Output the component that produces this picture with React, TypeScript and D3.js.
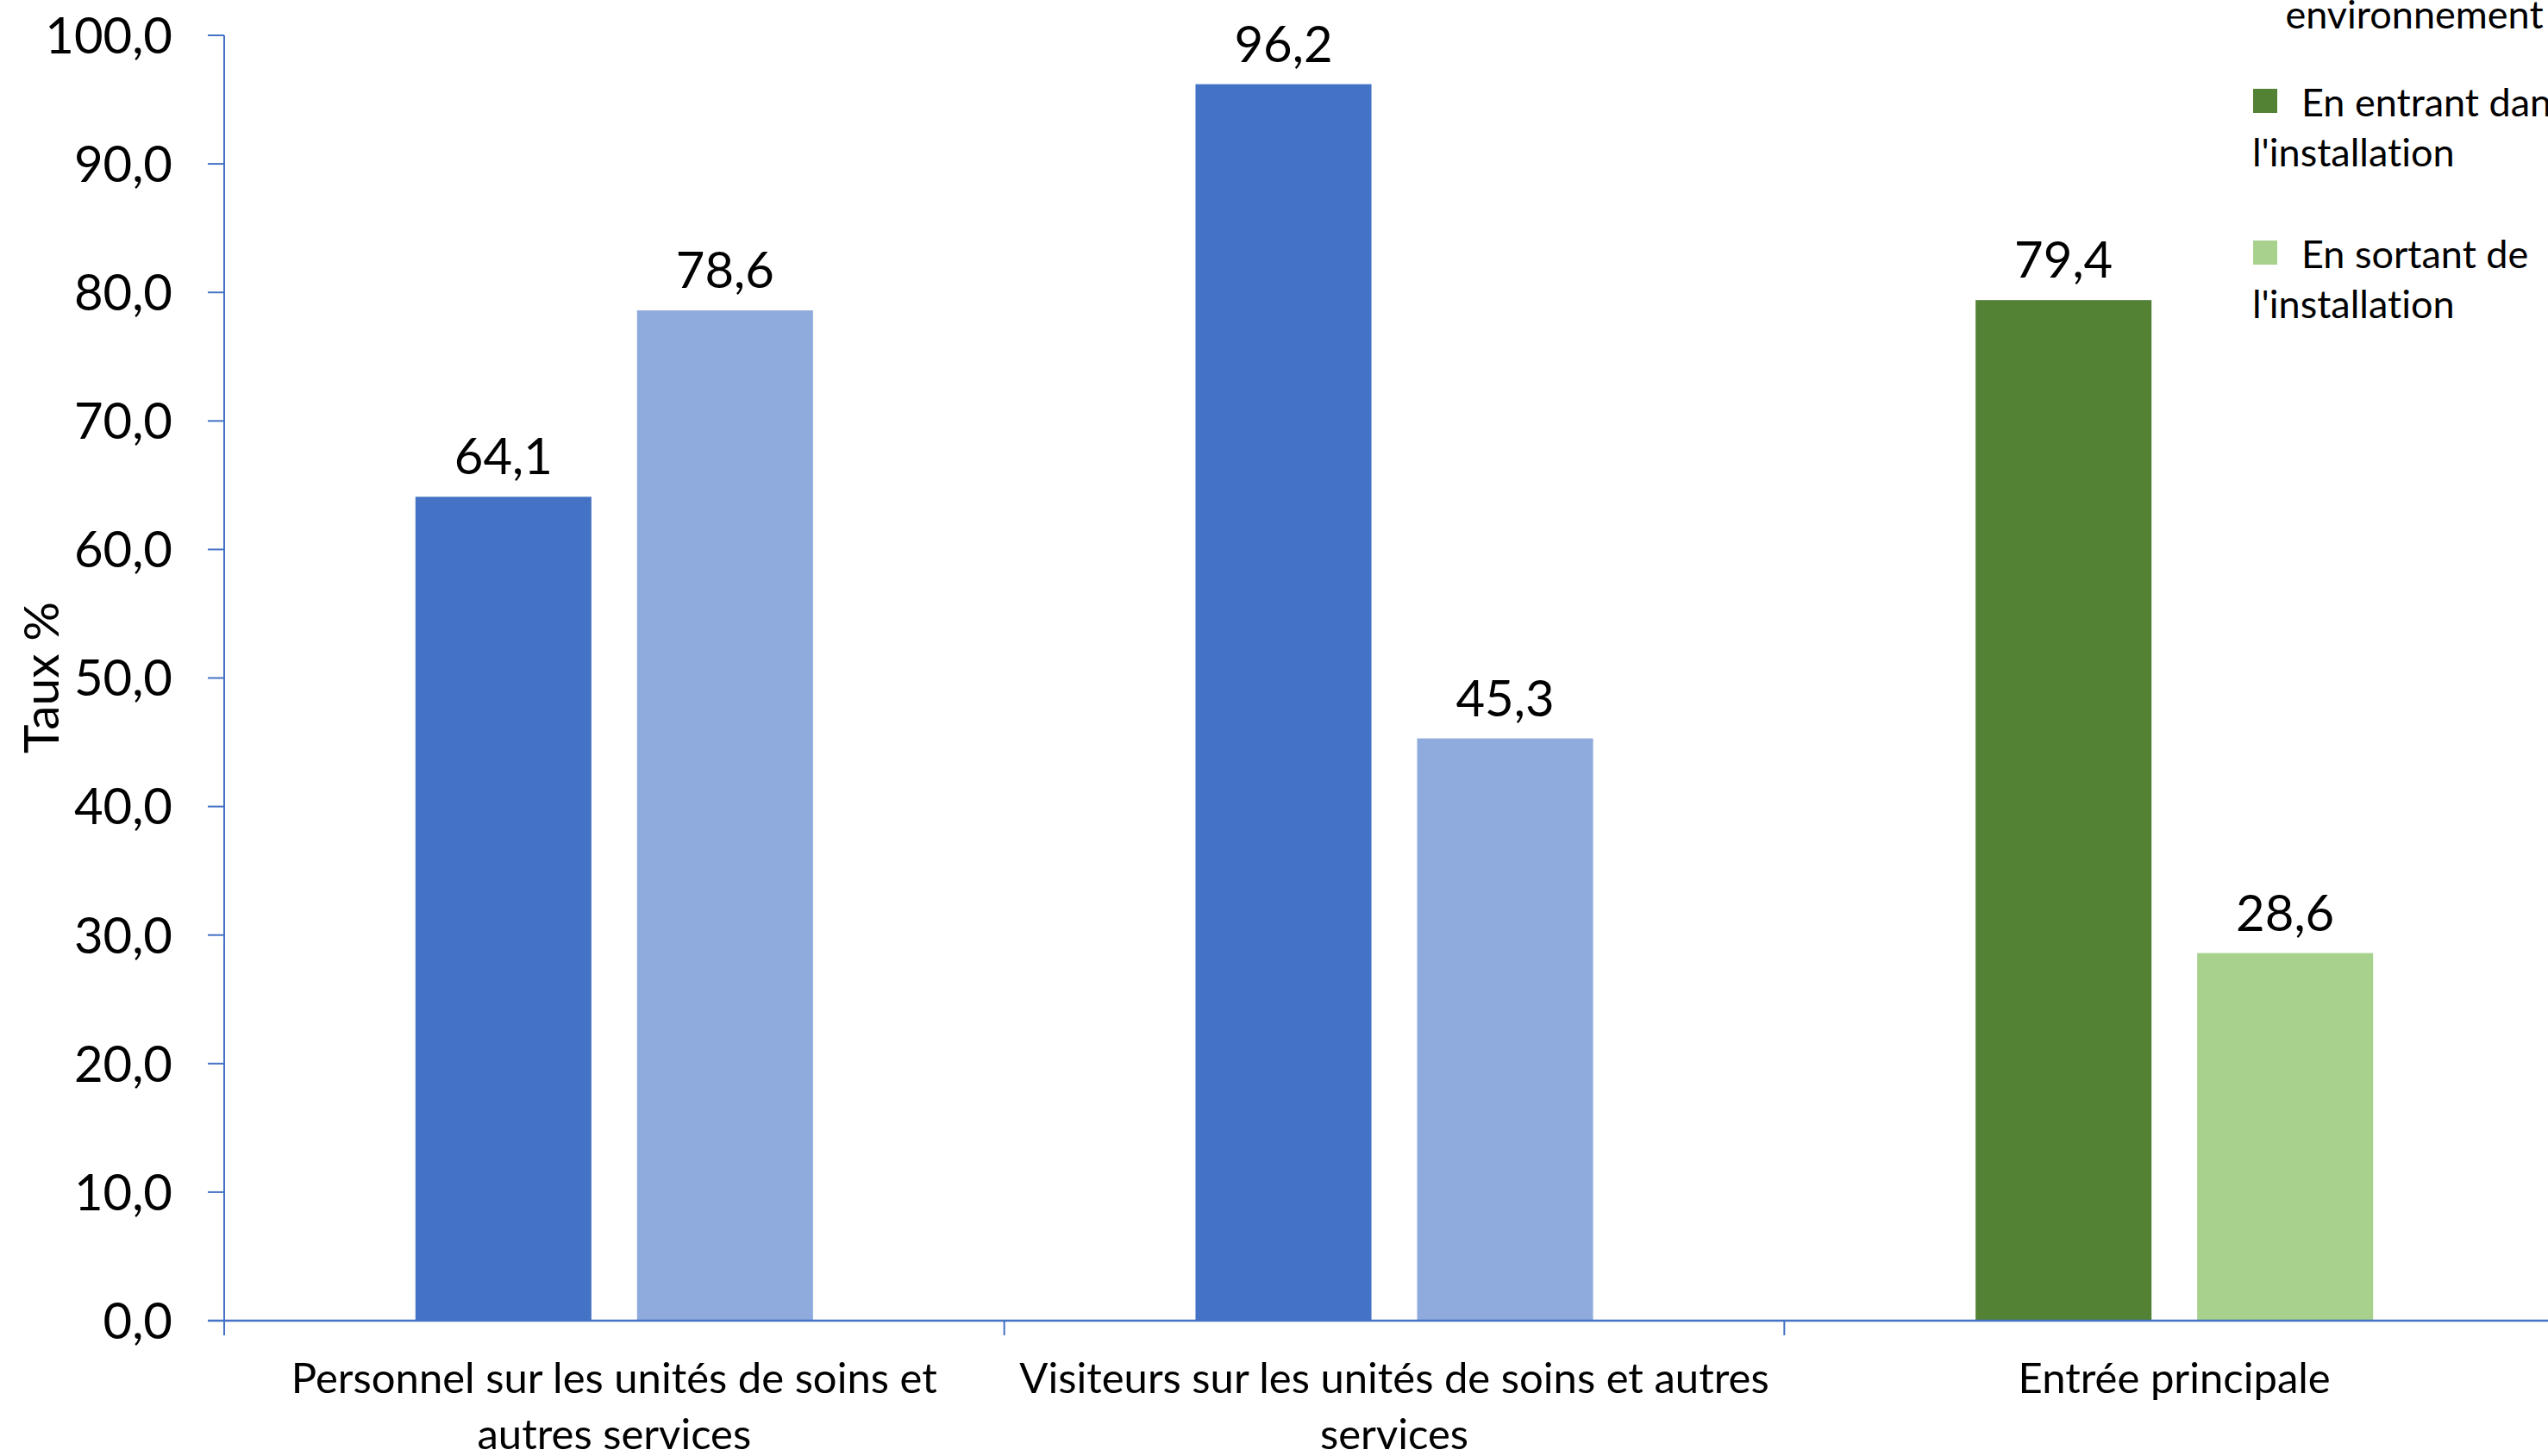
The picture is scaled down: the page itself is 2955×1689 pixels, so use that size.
// @ts-nocheck
import * as d3 from "d3";
import React, { useEffect, useRef } from "react";

const categories = [
  ["Personnel sur les unités de soins et", "autres services"],
  ["Visiteurs sur les unités de soins et autres", "services"],
  ["Entrée principale"],
];
const entrant = [64.1, 96.2, 79.4];
const sortant = [78.6, 45.3, 28.6];
const darkColors = ["#4472C4", "#4472C4", "#548235"];
const lightColors = ["#8FAADC", "#8FAADC", "#A9D18E"];
const yTicks = [0, 10, 20, 30, 40, 50, 60, 70, 80, 90, 100];
const legendItems = [
  { lines: ["En entrant dans", "l'installation"], color: "#548235" },
  { lines: ["En sortant de", "l'installation"], color: "#A9D18E" },
];

const W = 2955;
const H = 1689;
const FONT = "Lato, 'Open Sans', sans-serif";

export default function App() {
  const ref = useRef(null);

  useEffect(() => {
    document.body.style.margin = "0";
    const svg = d3.select(ref.current);
    svg.selectAll("*").remove();

    const keys = categories.map((c, i) => "c" + i);
    const x = d3.scaleBand().domain(keys).range([260, 2974]);
    const inner = d3
      .scaleBand()
      .domain(["entrant", "sortant"])
      .range([0, x.bandwidth()])
      .paddingInner(0.206)
      .paddingOuter(0.863);
    const y = d3.scaleLinear().domain([0, 100]).range([1532, 41]);
    const fmt = (v) => d3.format(".1f")(v).replace(".", ",");

    const g = svg.append("g").style("font-variant-ligatures", "none");

    // bars
    keys.forEach((k, i) => {
      const rows = [
        { s: "entrant", v: entrant[i], c: darkColors[i] },
        { s: "sortant", v: sortant[i], c: lightColors[i] },
      ];
      rows.forEach((r) => {
        const bx = x(k) + inner(r.s);
        g.append("rect")
          .attr("x", bx)
          .attr("y", y(r.v))
          .attr("width", inner.bandwidth())
          .attr("height", y(0) - y(r.v))
          .attr("fill", r.c);
        g.append("text")
          .attr("x", bx + inner.bandwidth() / 2)
          .attr("y", y(r.v) - 26)
          .attr("text-anchor", "middle")
          .attr("font-family", FONT)
          .attr("font-size", 58)
          .attr("fill", "#000")
          .text(fmt(r.v));
      });
    });

    // y axis
    const axisColor = "#4472C4";
    g.append("line")
      .attr("x1", 260).attr("x2", 260)
      .attr("y1", y(100)).attr("y2", y(0))
      .attr("stroke", axisColor).attr("stroke-width", 2);
    yTicks.forEach((t) => {
      g.append("line")
        .attr("x1", 241).attr("x2", 260)
        .attr("y1", y(t)).attr("y2", y(t))
        .attr("stroke", axisColor).attr("stroke-width", 2);
      g.append("text")
        .attr("x", 200)
        .attr("y", y(t))
        .attr("dy", "0.36em")
        .attr("text-anchor", "end")
        .attr("font-family", FONT)
        .attr("font-size", 58)
        .attr("fill", "#000")
        .text(fmt(t));
    });

    // x axis
    g.append("line")
      .attr("x1", 241).attr("x2", 2974)
      .attr("y1", y(0)).attr("y2", y(0))
      .attr("stroke", axisColor).attr("stroke-width", 2.5);
    keys.forEach((k, i) => {
      g.append("line")
        .attr("x1", x(k)).attr("x2", x(k))
        .attr("y1", y(0)).attr("y2", y(0) + 17)
        .attr("stroke", axisColor).attr("stroke-width", 2);
      const t = g.append("text")
        .attr("text-anchor", "middle")
        .attr("font-family", FONT)
        .attr("font-size", 49)
        .attr("fill", "#000");
      categories[i].forEach((line, j) => {
        t.append("tspan")
          .attr("x", x(k) + x.bandwidth() / 2)
          .attr("y", 1616 + j * 65)
          .text(line);
      });
    });

    // y title
    g.append("text")
      .attr("transform", "translate(68,786) rotate(-90)")
      .attr("text-anchor", "middle")
      .attr("font-family", FONT)
      .attr("font-size", 57)
      .attr("fill", "#000")
      .text("Taux %");

    // legend
    g.append("text")
      .attr("x", 2800)
      .attr("y", 33)
      .attr("text-anchor", "middle")
      .attr("font-family", FONT)
      .attr("font-size", 45)
      .attr("fill", "#000")
      .text("environnement");
    legendItems.forEach((it, i) => {
      const top = 103 + i * 176;
      g.append("rect")
        .attr("x", 2613).attr("y", top)
        .attr("width", 28).attr("height", 28)
        .attr("fill", it.color);
      g.append("text")
        .attr("x", 2669).attr("y", top + 32)
        .attr("font-family", FONT).attr("font-size", 45).attr("fill", "#000")
        .text(it.lines[0]);
      g.append("text")
        .attr("x", 2612).attr("y", top + 90)
        .attr("font-family", FONT).attr("font-size", 45).attr("fill", "#000")
        .text(it.lines[1]);
    });
  }, []);

  return (
    <svg
      ref={ref}
      width={W}
      height={H}
      style={{ position: "absolute", left: 0, top: 0, background: "#fff", display: "block" }}
    />
  );
}
